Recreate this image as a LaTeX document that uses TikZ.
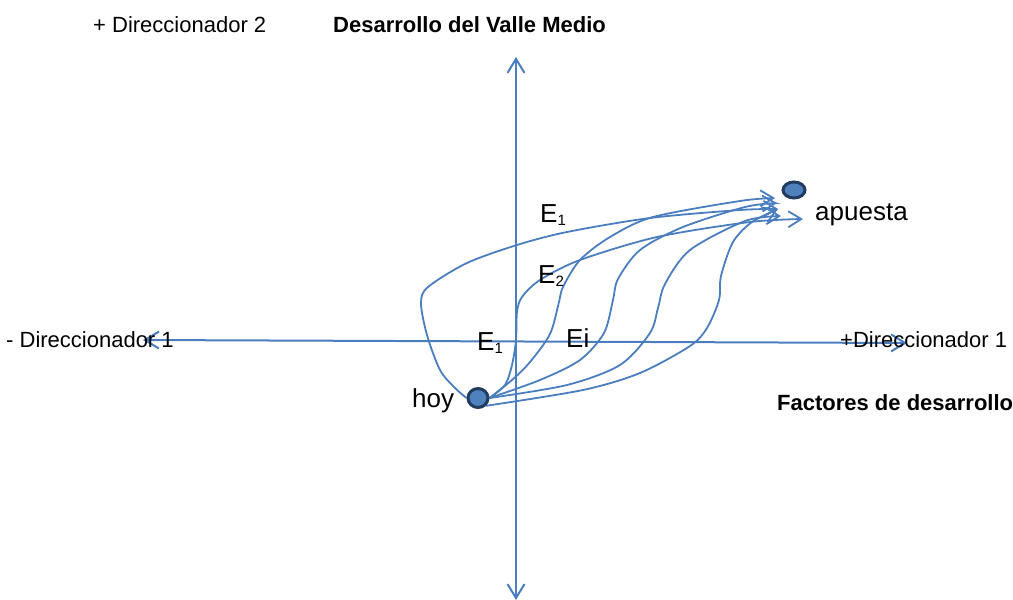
\documentclass[tikz,border=0pt]{standalone}
\usepackage{fontspec}
\setmainfont{Liberation Sans}
\usetikzlibrary{arrows.meta,backgrounds,shapes.geometric}
\definecolor{lineblue}{RGB}{74,126,190}
\definecolor{dotfill}{RGB}{79,129,189}
\definecolor{dotedge}{RGB}{34,60,96}
\newcommand\mysub[1]{\raisebox{-3.5pt}{\fontsize{15}{15}\selectfont #1}}
\tikzset{
  axisline/.style={draw=lineblue, line width=2pt, {Straight Barb[length=14pt,width=17pt]}-{Straight Barb[length=14pt,width=17pt]}},
  pathline/.style={draw=lineblue, line width=1.8pt, -{Straight Barb[length=13pt,width=16pt]}},
  dotnode/.style={ellipse, draw=dotedge, fill=dotfill, line width=3pt, inner sep=0pt},
  lbl/.style={inner sep=0pt, anchor=base west, font=\fontsize{22}{26}\selectfont},
  blbl/.style={inner sep=0pt, anchor=base west, font=\fontsize{22}{26}\selectfont\bfseries},
  big/.style={inner sep=0pt, anchor=base west, font=\fontsize{26}{30}\selectfont},
}
\begin{document}
\begin{tikzpicture}[x=1pt,y=-1pt]
\useasboundingbox (0,0) rectangle (1013,600);
% dots
\node[dotnode, minimum width=20pt, minimum height=19pt] (hoy) at (478,398) {};
\node[dotnode, minimum width=22pt, minimum height=16pt] (apuesta) at (794,190) {};
% coordinates
\coordinate (xl) at (143,340);
\coordinate (xr) at (907,343);
\coordinate (yt) at (516,57);
\coordinate (yb) at (516,600);
\coordinate (t1) at (775,198);
\coordinate (t2) at (778,209);
\coordinate (t3) at (781,216);
\coordinate (t4) at (803,219);
\coordinate (t5) at (777,203);
\begin{pgfonlayer}{background}
\draw[axisline] (xl) -- (xr);
\draw[axisline] (yb) -- (yt);
% loop E1
\draw[pathline] plot[smooth] coordinates {(hoy.west) (455,388) (440,370) (427,335) (421,303) (428,287) (467,263) (517,245) (567,232) (650,218) (740,210) (t2)};
% E2
\draw[pathline] plot[smooth] coordinates {(hoy.east) (505,385) (512,365) (516,340) (517,312) (522,297) (540,280) (580,260) (657,237) (750,222) (t4)};
% S1
\draw[pathline] plot[smooth] coordinates {(hoy.east) (512,380) (530,362) (550,334) (559,302) (563,287) (580,260) (610,237) (653,217) (740,201) (t1)};
% S2
\draw[pathline] plot[smooth] coordinates {(hoy.east) (540,380) (580,360) (604,333) (613,300) (618,279) (640,250) (683,227) (745,207) (t5)};
% S3
\draw[pathline] plot[smooth] coordinates {(hoy.east) (567,385) (620,365) (650,333) (658,308) (665,284) (690,250) (745,221) (t3)};
% S4
\draw[pathline] plot[smooth] coordinates {(hoy.south east) (583,390) (640,373) (690,346) (707,328) (719,300) (721,276) (733,242) (752,222) (t2)};
\end{pgfonlayer}
% labels
\node[lbl] (d2) at (93,32) {+ Direccionador 2};
\node[blbl] (dvm) at (333,32) {Desarrollo del Valle Medio};
\node[lbl] (dm1) at (6,347) {- Direccionador 1};
\node[lbl] (dp1) at (840,347) {+Direccionador 1};
\node[blbl] (fd) at (777,410) {Factores de desarrollo};
\node[big] (hoylbl) at (412,407) {hoy};
\node[big] (apulbl) at (815,220) {apuesta};
\node[big] (e1t) at (540,222) {E\mysub{1}};
\node[big] (e2) at (538,283) {E\mysub{2}};
\node[big] (e1b) at (477,350) {E\mysub{1}};
\node[big] (ei) at (566,347) {Ei};
\end{tikzpicture}
\end{document}
